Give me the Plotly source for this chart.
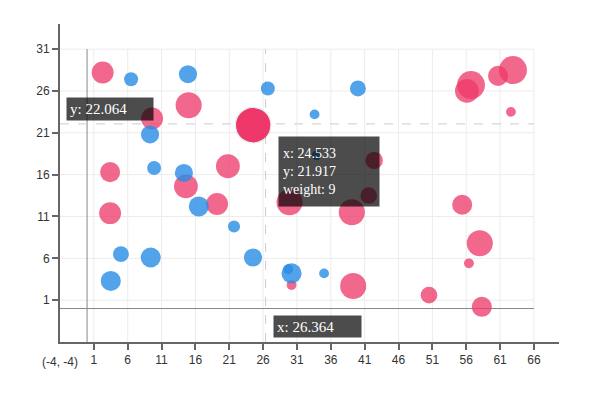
import plotly.graph_objects as go

# series "red" (the hovered bubble is the 4th one)
red_x = [2.3, 9.6, 15.0, 24.533, 3.4, 3.4, 14.6, 20.8, 19.2, 29.9, 30.2, 39.1, 39.3,
         42.4, 41.6, 50.5, 55.4, 58.0, 56.4, 58.3, 56.7, 56.1, 60.7, 62.9, 62.6]
red_y = [28.2, 22.7, 24.3, 21.917, 16.3, 11.4, 14.6, 17.0, 12.5, 12.7, 2.8, 11.5, 2.7,
         17.7, 13.5, 1.6, 12.4, 7.8, 5.4, 0.2, 26.7, 26.0, 27.8, 28.5, 23.5]
red_weight = [5.8, 5.8, 6.9, 9, 5.3, 5.8, 6.3, 6.3, 5.8, 6.9, 2.6, 6.9, 6.9,
              4.6, 4.4, 4.4, 5.3, 6.9, 2.6, 5.3, 7.4, 6.3, 5.3, 7.4, 2.6]

# series "blue"
blue_x = [6.5, 14.9, 26.7, 9.3, 9.9, 14.3, 16.5, 21.7, 5.0, 9.4, 3.5, 24.5,
          30.2, 29.7, 35.0, 40.0, 33.6, 33.9]
blue_y = [27.4, 28.0, 26.3, 20.8, 16.8, 16.2, 12.2, 9.8, 6.5, 6.1, 3.3, 6.1,
          4.2, 4.7, 4.2, 26.3, 23.2, 18.3]
blue_weight = [3.7, 4.8, 3.7, 4.8, 3.7, 4.8, 5.3, 3.2, 4.2, 5.3, 5.3, 4.8,
               5.3, 2.6, 2.6, 4.2, 2.6, 2.6]

hover_idx = 3
pointer_x = 26.364
pointer_y = 22.064

x_ticks = list(range(1, 67, 5))
y_ticks = list(range(1, 32, 5))
x_min, y_min = -4, -4
x_max, y_max = 66, 31

SCALE = 3.78
RED = "rgb(238,56,105)"
BLUE = "rgb(40,140,230)"

fig = go.Figure()
fig.add_trace(go.Scatter(
    x=red_x, y=red_y, mode="markers", name="red",
    marker=dict(size=[w * SCALE for w in red_weight], color=RED, opacity=0.76,
                line=dict(width=0)),
))
fig.add_trace(go.Scatter(
    x=blue_x, y=blue_y, mode="markers", name="blue",
    marker=dict(size=[w * SCALE for w in blue_weight], color=BLUE, opacity=0.8,
                line=dict(width=0)),
))
# emphasised (hovered) bubble with a soft shadow
hx, hy, hw = red_x[hover_idx], red_y[hover_idx], red_weight[hover_idx]
fig.add_trace(go.Scatter(
    x=[hx], y=[hy], mode="markers",
    marker=dict(size=hw * SCALE + 3, color="rgba(0,0,0,0.08)", line=dict(width=0)),
))
fig.add_trace(go.Scatter(
    x=[hx], y=[hy], mode="markers",
    marker=dict(size=hw * SCALE, color=RED, opacity=1, line=dict(width=0)),
))

shapes = []
for v in x_ticks:
    shapes.append(dict(type="line", xref="x", yref="y", x0=v, x1=v, y0=y_min, y1=y_max,
                       line=dict(color="#ececec", width=1), layer="below"))
for v in y_ticks:
    shapes.append(dict(type="line", xref="x", yref="y", x0=x_min, x1=x_max, y0=v, y1=v,
                       line=dict(color="#ececec", width=1), layer="below"))
# zero lines
shapes.append(dict(type="line", xref="x", yref="y", x0=0, x1=0, y0=y_min, y1=y_max,
                   line=dict(color="#888", width=1), layer="below"))
shapes.append(dict(type="line", xref="x", yref="y", x0=x_min, x1=x_max, y0=0, y1=0,
                   line=dict(color="#888", width=1), layer="below"))
# axis pointer (cross)
shapes.append(dict(type="line", xref="x", yref="y", x0=pointer_x, x1=pointer_x, y0=y_min, y1=y_max,
                   line=dict(color="#ccc", width=1, dash="dash"), layer="below"))
shapes.append(dict(type="line", xref="x", yref="y", x0=x_min, x1=x_max, y0=pointer_y, y1=pointer_y,
                   line=dict(color="#ccc", width=1, dash="dash"), layer="below"))

label_font = dict(family="Liberation Serif", size=15, color="white")
annotations = [
    dict(x=x_min, y=y_min, xref="x", yref="y", text="(%g, %g)" % (x_min, y_min),
         showarrow=False, yanchor="top", yshift=-11,
         font=dict(family="Liberation Sans", size=12, color="#333")),
    dict(x=x_min, y=pointer_y, xref="x", yref="y", text="y: %.3f" % pointer_y,
         showarrow=False, xanchor="left", yanchor="bottom", xshift=6, yshift=3,
         bgcolor="rgba(0,0,0,0.7)", borderpad=3, width=80, height=16, align="left",
         font=label_font),
    dict(x=pointer_x, y=y_min, xref="x", yref="y", text="x: %.3f" % pointer_x,
         showarrow=False, xanchor="left", yanchor="bottom", xshift=7, yshift=4,
         bgcolor="rgba(0,0,0,0.7)", borderpad=3, width=81, height=15, align="left",
         font=label_font),
    dict(x=hx, y=hy, xref="x", yref="y",
         text="x: %.3f<br>y: %.3f<br>weight: %g" % (hx, hy, hw),
         showarrow=False, xanchor="left", yanchor="top", xshift=25, yshift=-11,
         bgcolor="rgba(0,0,0,0.7)", borderpad=4, width=92, height=61, align="left",
         font=dict(family="Liberation Serif", size=14, color="white")),
]

axis_common = dict(showgrid=False, zeroline=False, showline=True, linecolor="#666",
                   linewidth=2, ticks="outside", ticklen=6, tickwidth=2, tickcolor="#666",
                   tickfont=dict(family="Liberation Sans", size=12, color="#333"))

fig.update_layout(
    width=596, height=414,
    margin=dict(l=52, r=45, t=16, b=80),
    plot_bgcolor="white", paper_bgcolor="white",
    showlegend=False,
    shapes=shapes, annotations=annotations,
    xaxis=dict(range=[x_min, 69.7], tickvals=x_ticks, **axis_common),
    yaxis=dict(range=[y_min, 34], tickvals=y_ticks, **axis_common),
)

fig.write_html("out.html")
